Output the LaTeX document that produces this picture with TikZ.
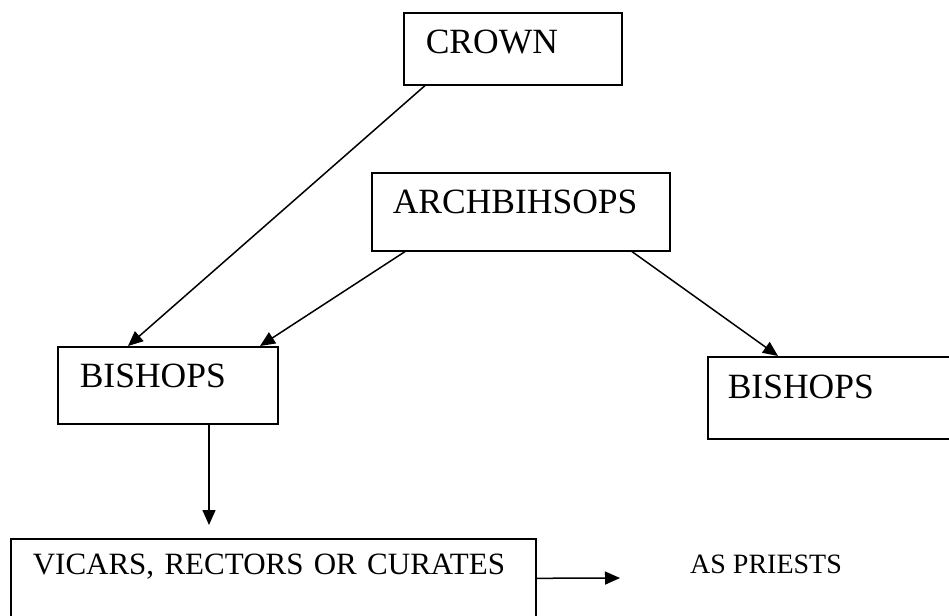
\documentclass[tikz,border=0pt]{standalone}
\usepackage{fontspec}
\setmainfont{Liberation Serif}
\usetikzlibrary{arrows.meta}

\tikzset{
  caja/.style={draw, line width=1.6pt, anchor=north west, inner ysep=0pt, align=left,
    font=\fontsize{35.5}{40}\selectfont},
  flecha/.style={line width=1.5pt, -{Triangle[length=15pt,width=13pt]}}
}

\begin{document}
\begin{tikzpicture}[x=1pt,y=-1pt]
			% Marco
				\useasboundingbox (0,0) rectangle (949,615);
			
			% Cajas
				\node[caja, inner xsep=22pt, text width=174pt, text height=41pt, text depth=31pt] (crown) at (403,12) {CROWN};
				\node[caja, inner xsep=21pt, text width=256pt, text height=41pt, text depth=37pt] (arch) at (371,172) {ARCHBIHSOPS};
				\node[caja, inner xsep=22pt, text width=176pt, text height=41pt, text depth=36pt] (bishopsL) at (57,346) {BISHOPS};
				\node[caja, inner xsep=20pt, text width=210pt, text height=42pt, text depth=40pt] (bishopsR) at (707,356) {BISHOPS};
				\node[caja, inner xsep=22pt, text width=481pt, text height=36pt, text depth=43pt,
					font=\fontsize{31}{36}\selectfont] (vicars) at (10,538) {VICARS, RECTORS OR CURATES};
			
			% Texto suelto
				\node[anchor=base west, inner sep=0pt, font=\fontsize{28}{32}\selectfont] (priests) at (690,573) {AS PRIESTS};
				\coordinate (tip) at (620,578);
			
			% Flechas
				\draw[flecha] ([xshift=22pt]crown.south west) -- ([xshift=71pt]bishopsL.north west);
				\draw[flecha] ([xshift=34pt]arch.south west) -- ([xshift=203pt]bishopsL.north west);
				\draw[flecha] ([xshift=261pt]arch.south west) -- ([xshift=71pt]bishopsR.north west);
				\draw[flecha] ([xshift=152pt]bishopsL.south west) -- ([xshift=199pt,yshift=13pt]vicars.north west);
				\draw[flecha] (vicars.east) -- (tip);
\end{tikzpicture}
\end{document}
